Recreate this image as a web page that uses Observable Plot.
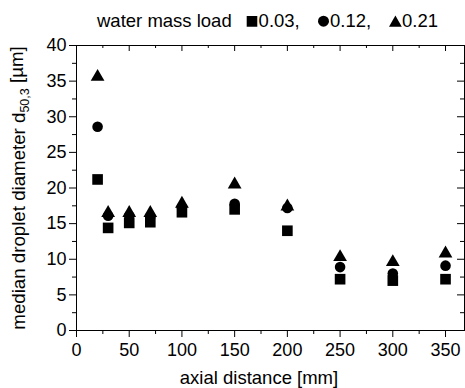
<!DOCTYPE html>
<html>
<head>
<meta charset="utf-8">
<script src="https://cdn.jsdelivr.net/npm/d3@7"></script>
<script src="https://cdn.jsdelivr.net/npm/@observablehq/plot@0.6"></script>
<style>
  html, body { margin: 0; padding: 0; background: #fff; }
  body { width: 465px; height: 388px; overflow: hidden; font-family: "Liberation Sans", Arial, sans-serif; color: #000; }
  #legend svg, #chart svg { display: block; }
</style>
</head>
<body>
<div id="legend"></div>
<div id="chart"></div>
<script>
// ---- data ----
const distance = [20, 30, 50, 70, 100, 150, 200, 250, 300, 350];
const load003 = [21.2, 14.4, 15.1, 15.2, 16.6, 17.0, 14.0, 7.2, 7.0, 7.2];
const load012 = [28.6, 16.1, 16.1, 16.0, 17.3, 17.8, 17.2, 8.9, 8.0, 9.1];
const load021 = [35.6, 16.5, 16.5, 16.5, 17.8, 20.5, 17.4, 10.3, 9.6, 10.8];
const seriesLabels = ["0.03,", "0.12,", "0.21"];
const seriesSymbols = ["square", "circle", "triangle"];
const legendTitle = "water mass load";
const xTicks = [0, 50, 100, 150, 200, 250, 300, 350];
const xMinorTicks = [25, 75, 125, 175, 225, 275, 325];
const yTicks = [0, 5, 10, 15, 20, 25, 30, 35, 40];
const yMinorTicks = [2.5, 7.5, 12.5, 17.5, 22.5, 27.5, 32.5, 37.5];
const xLabel = "axial distance [mm]";
const yLabelMain = "median droplet diameter d";
const yLabelSub = "50,3";
const yLabelEnd = " [µm]";

const ns = "http://www.w3.org/2000/svg";
const font = "\"Liberation Sans\", Arial, sans-serif";

// ---- legend (above the chart svg) ----
const leg = d3.select("#legend").append("svg")
  .attr("width", 465).attr("height", 35)
  .style("font-family", font).style("font-size", "18.5px");
const baseY = 26.7;
leg.append("text").attr("x", 97).attr("y", baseY).text(legendTitle);
const symX = [246.7, 318, 389];
const labX = [258.6, 330, 402];
const symPaths = {
  square: (x) => `M${x},${baseY - 10.6}h10.6v10.6h-10.6Z`,
  circle: (x) => `M${x + 11},${baseY - 5.5}A5.5,5.5 0 1,1 ${x},${baseY - 5.5}A5.5,5.5 0 1,1 ${x + 11},${baseY - 5.5}Z`,
  triangle: (x) => `M${x},${baseY}L${x + 12.8},${baseY}L${x + 6.4},${baseY - 11.2}Z`
};
seriesLabels.forEach((lab, i) => {
  leg.append("path").attr("d", symPaths[seriesSymbols[i]](symX[i])).attr("fill", "#000");
  leg.append("text").attr("x", labX[i]).attr("y", baseY).text(lab);
});

// ---- chart ----
const chart = Plot.plot({
  width: 465,
  height: 353,
  marginLeft: 76,
  marginRight: 1,
  marginTop: 10,
  marginBottom: 58,
  style: { fontFamily: font, fontSize: "18px", color: "#000", background: "#fff", overflow: "visible" },
  x: { domain: [0, 368] },
  y: { domain: [0, 40] },
  marks: [
    // left axis
    Plot.axisY({ ticks: yTicks, tickSize: 7, tickPadding: 3, fontSize: 18, label: yLabelMain + yLabelSub + yLabelEnd, labelAnchor: "center", labelArrow: "none", labelOffset: 65 }),
    Plot.axisY({ ticks: yMinorTicks, tickSize: 4, tickFormat: () => "", label: null }),
    // right axis (inward ticks)
    Plot.axisY({ anchor: "left", frameAnchor: "right", ticks: yTicks, tickSize: 7, tickFormat: () => "", label: null }),
    Plot.axisY({ anchor: "left", frameAnchor: "right", ticks: yMinorTicks, tickSize: 4, tickFormat: () => "", label: null }),
    // bottom axis
    Plot.axisX({ ticks: xTicks, tickSize: 7, tickPadding: 6, fontSize: 18, label: xLabel, labelAnchor: "center", labelArrow: "none", labelOffset: 53 }),
    Plot.axisX({ ticks: xMinorTicks, tickSize: 4, tickFormat: () => "", label: null }),
    // top axis (inward ticks)
    Plot.axisX({ anchor: "bottom", frameAnchor: "top", ticks: xTicks, tickSize: 6, tickFormat: () => "", label: null }),
    Plot.axisX({ anchor: "bottom", frameAnchor: "top", ticks: xMinorTicks, tickSize: 3, tickFormat: () => "", label: null }),
    Plot.frame({ stroke: "#000", strokeWidth: 1 }),
    Plot.dot(load003, { x: distance, y: load003, symbol: seriesSymbols[0], r: 6, fill: "#000", stroke: "none" }),
    Plot.dot(load012, { x: distance, y: load012, symbol: seriesSymbols[1], r: 5.3, fill: "#000", stroke: "none" }),
    Plot.dot(load021, { x: distance, y: load021, symbol: seriesSymbols[2], r: 5.1, fill: "#000", stroke: "none" })
  ]
});
document.getElementById("chart").appendChild(chart);

// subscript in the y-axis label; x label centred under the 0–350 tick span
const full = yLabelMain + yLabelSub + yLabelEnd;
chart.querySelectorAll("text").forEach(t => {
  if (t.textContent === full) {
    t.setAttribute("font-size", "18.7");
    while (t.firstChild) t.removeChild(t.firstChild);
    const a = document.createElementNS(ns, "tspan"); a.textContent = yLabelMain;
    const b = document.createElementNS(ns, "tspan"); b.textContent = yLabelSub;
    b.setAttribute("font-size", "12.5"); b.setAttribute("dy", "0.3em");
    const c = document.createElementNS(ns, "tspan"); c.textContent = yLabelEnd;
    c.setAttribute("dy", "-0.3em");
    t.appendChild(a); t.appendChild(b); t.appendChild(c);
  } else if (t.textContent === xLabel) {
    t.setAttribute("font-size", "18.5");
    const tr = t.getAttribute("transform") || "";
    t.setAttribute("transform", "translate(-11.5,0) " + tr);
  }
});
</script>
</body>
</html>
